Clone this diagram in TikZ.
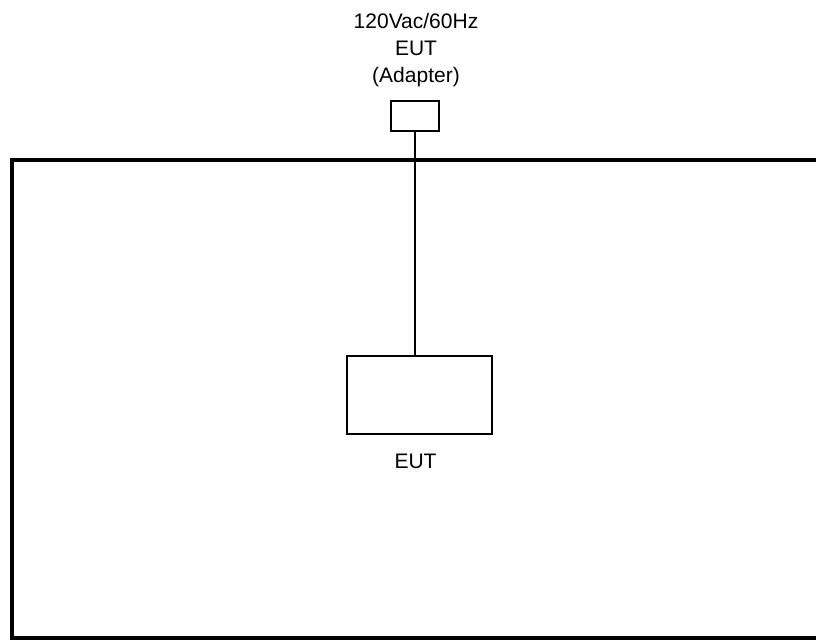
\documentclass[tikz,border=0pt]{standalone}
\usepackage{fontspec}
\setmainfont{Liberation Sans}
\usetikzlibrary{positioning}
\begin{document}
\begin{tikzpicture}[x=1pt, y=-1pt]
% Set the page size (816 x 640)
\useasboundingbox (0,0) rectangle (816,640);
\clip (0,0) rectangle (816,640);

% Table outline (runs off to the right)
\draw[line width=4pt] (12,160) rectangle (840,638);

% Adapter and EUT
\node[draw, line width=1.6pt, minimum width=48pt, minimum height=30pt, inner sep=0pt] (adapter) at (415,116) {};
\node[draw, line width=1.6pt, minimum width=145pt, minimum height=78pt, inner sep=0pt] (eut) at (419.5,395) {};
\node[font=\fontsize{21}{27}\selectfont, align=center, anchor=south] (adapterlabel) at (416,90) {120Vac/60Hz\\EUT\\(Adapter)};
\node[font=\fontsize{21}{25}\selectfont, below=16pt of eut, xshift=-4pt] (eutlabel) {EUT};

% Power cord
\draw[line width=1.6pt] (adapter.south) -- (adapter.south |- eut.north);
\end{tikzpicture}
\end{document}
